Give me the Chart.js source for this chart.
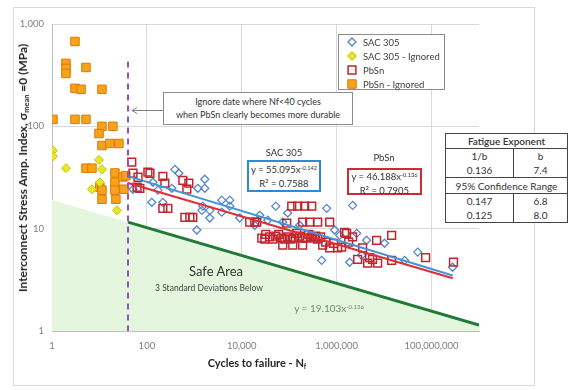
<!DOCTYPE html>
<html><head><meta charset="utf-8">
<script src="https://cdn.jsdelivr.net/npm/chart.js@4.4.0/dist/chart.umd.min.js"></script>
<style>
html,body{margin:0;padding:0;background:#fff;}
#wrap{position:relative;width:569px;height:390px;overflow:hidden;font-family:Lato,"Open Sans",sans-serif;color:#333;}
#c{position:absolute;left:0;top:0;}
.ov{position:absolute;white-space:nowrap;line-height:1;}
.ctr{transform:translate(-50%,-50%);}
sup{font-size:60%;vertical-align:0;position:relative;top:-0.55em;}
sub{font-size:62%;vertical-align:0;position:relative;top:0.3em;}
#ytitle{left:23px;top:168px;font-weight:bold;font-size:12px;color:#262626;transform:translate(-50%,-50%) rotate(-90deg);}
#xtitle{left:257px;top:362px;font-weight:bold;font-size:11px;color:#262626;}
#note{left:163px;top:92px;width:188px;height:29px;border:1px solid #8c8c8c;background:#fff;font-size:9px;color:#333;text-align:center;line-height:13px;padding-top:2px;box-sizing:content-box;}
.eqbox{position:absolute;background:#fff;font-size:9.5px;text-align:center;line-height:13px;color:#333;}
#sacbox{left:247px;top:160px;width:70px;height:27px;border:2px solid #2f8ad3;padding-top:1px;}
#pbbox{left:347px;top:168px;width:71px;height:23px;border:2px solid #cc2b31;}
#tbl{position:absolute;left:445px;top:133px;width:123px;border-collapse:collapse;border:1.5px solid #444;font-size:10px;color:#333;background:#fff;}
#tbl td{text-align:center;padding:0;height:14px;line-height:14px;}
#tbl td.l{border-right:1px solid #444;width:67px;}
#tbl tr.hd td{border-bottom:1px solid #444;font-weight:600;}
#tbl tr.hd2 td{border-top:1px solid #444;border-bottom:1px solid #444;height:15px;}
</style>
</head><body>
<div id="wrap">
<canvas id="c" width="569" height="390"></canvas>
<div class="ov" id="ytitle">Interconnect Stress Amp. Index, σ<sub>mean</sub> =0 (MPa)</div>
<div class="ov ctr" id="xtitle">Cycles to failure - N<sub>f</sub></div>
<div class="ov" id="note">Ignore date where Nf&lt;40 cycles<br>when PbSn clearly becomes more durable</div>
<div class="ov ctr" style="left:284px;top:153px;font-size:9.5px;">SAC 305</div>
<div class="eqbox" id="sacbox">y = 55.095x<sup>-0.142</sup><br>R² = 0.7588</div>
<div class="ov ctr" style="left:384px;top:158px;font-size:9.5px;">PbSn</div>
<div class="eqbox" id="pbbox">y = 46.188x<sup>-0.136</sup><br>R² = 0.7905</div>
<div class="ov ctr" style="left:216px;top:271px;font-size:13px;color:#333;">Safe Area</div>
<div class="ov ctr" style="left:209px;top:288px;font-size:8.5px;color:#444;">3 Standard Deviations Below</div>
<div class="ov ctr" style="left:329px;top:308px;font-size:10px;color:#6f8f6f;">y = 19.103x<sup>-0.136</sup></div>
<table id="tbl">
<tr class="hd"><td colspan="2">Fatigue Exponent</td></tr>
<tr><td class="l">1/b</td><td>b</td></tr>
<tr><td class="l">0.136</td><td>7.4</td></tr>
<tr class="hd2"><td colspan="2">95% Confidence Range</td></tr>
<tr><td class="l">0.147</td><td>6.8</td></tr>
<tr><td class="l">0.125</td><td>8.0</td></tr>
</table>
</div>
<script>
// ---- tick labels ----
const xTicks = [1, 100, 1e4, 1e6, 1e8];
const yTicks = [1, 10, 100, 1000];

// ---- SAC 305 ----
const sacN = [127,51,171,388,472,1660,134,336,1185,1660,217,3790,5590,5590,1510,1440,2120,2120,3790,9080,1130,52000,615000,2170000,73000,483000,4280000,10200000,2640000,1880000,51000000,27000000,277000000,3360000,23900,35300,93000,166000,908000,1160000,18800];
const sacS = [18.1,24.3,23.8,38,34.8,30.4,28.4,24.8,24.8,24.8,18.1,19.0,19.0,16.6,16.6,15.1,15.1,12.7,14.5,12.7,9.7,16.6,15.8,16.9,11.6,4.9,7.7,7.2,9.0,4.7,5.9,4.9,4.2,5.5,13.5,12.1,14.2,10.8,9.7,8.6,10.8];

// ---- SAC 305 - Ignored ----
const sacIgnN = [1.05,1.05,1.97,9.8,11.3,10.2,6.95,23.4];
const sacIgnS = [58,51,39,47,38,28.4,24.3,15.1];

// ---- PbSn ----
const pbN = [48,51,65,105,71,62,116,217,239,573,766,695,217,277,631,804,929,14700,18800,20700,113000,151000,212000,298000,192000,270000,398000,712000,38800,52000,69500,93000,124000,166000,222000,298000,398000,73000,118600,192000,507000,712000,1050000,1620000,88500,586000,865000,1470000,2170000,1790000,6950000,14400000,3520000,4950000,5700000,7300000,4500000,14400000,75000000,290000000,2770000,1270000,32000,60100,144000,258000,361000,26400,30500,45000,80400,107600,192000,344000,460000];
const pbS = [44.6,34.8,31.8,35.6,24.8,25.4,34.8,32.5,27.8,29.7,27.8,24.3,15.8,15.8,12.9,12.9,12.9,11.6,11.6,11.6,16.6,16.6,16.6,16.6,11.6,11.6,11.6,11.6,8.3,8.45,8.1,8.3,8.1,8.45,8.1,8.3,7.9,6.9,6.9,6.9,6.9,6.5,6.5,9.0,11.3,7.4,7.2,9.2,8.3,7.4,7.7,8.6,6.5,5.2,5.0,4.6,4.6,4.9,5.2,4.7,5.0,6.6,8.8,8.8,9.0,8.8,8.45,8.1,7.9,7.9,7.9,7.9,8.1,8.1,8.3];

// ---- PbSn - Ignored ----
const pbIgnN = [3.05,1.97,1.97,1.97,5.2,3.05,4.1,11.3,1.05,3.05,5.2,11.3,19.2,9.8,11.3,16.6,25.7,5.2,6.95,21.2,21.2,31.3,36.1,10.2,11.3,21.2,32.8,11.3,22.2];
const pbIgnS = [675,412,368,329,376,235,230,230,117,117,117,100,100,85,65,68,68,39,39,35,28.4,32,33,25.4,23.8,23.8,24.3,19.4,19.4];

// ---- trend / limit lines (end points) ----
const sacFitN = [40, 2.8e8];   const sacFitS = [32.6, 3.48];
const pbFitN  = [40, 2.8e8];   const pbFitS  = [27.98, 3.28];
const safeN   = [40, 1e9];     const safeS   = [11.57, 1.14];
const shadeN  = [1, 1e9];      const shadeS  = [19.1, 1.14];
const cutN    = [40, 40];      const cutS    = [430, 1];

const pts = (xs, ys) => xs.map((x, i) => ({x, y: ys[i]}));

Chart.defaults.font.family = 'Lato';

const overlay = {
  id: 'overlay',
  beforeDraw(chart) {
    const ctx = chart.ctx;
    ctx.save();
    ctx.strokeStyle = '#d9d9d9'; ctx.lineWidth = 1;
    ctx.strokeRect(13.5, 7.5, 521, 378);
    ctx.restore();
  },
  afterDraw(chart) {
    const ctx = chart.ctx;
    ctx.save();
    // arrow from note box to cutoff line
    ctx.strokeStyle = '#7f7f7f'; ctx.lineWidth = 1;
    ctx.beginPath(); ctx.moveTo(163, 110.5); ctx.lineTo(132, 110.5);
    ctx.moveTo(137, 107.5); ctx.lineTo(132, 110.5); ctx.lineTo(137, 113.5); ctx.stroke();
    // legend
    const lx = 338, ly = 34, lw = 106, lh = 55;
    ctx.fillStyle = '#fff'; ctx.fillRect(lx, ly, lw, lh);
    ctx.strokeStyle = '#8c8c8c'; ctx.strokeRect(lx + 0.5, ly + 0.5, lw, lh);
    ctx.font = '9.5px Lato'; ctx.textBaseline = 'middle';
    const ds = chart.data.datasets;
    [0, 1, 2, 3].forEach((di, i) => {
      const d = ds[di];
      const x = lx + 14, y = ly + 8 + i * 14;
      ctx.beginPath();
      if (d.pointStyle === 'rectRot') {
        const r = d.pointRadius;
        ctx.moveTo(x, y - r); ctx.lineTo(x + r, y); ctx.lineTo(x, y + r); ctx.lineTo(x - r, y); ctx.closePath();
      } else {
        const s = d.pointRadius * Math.SQRT1_2;
        ctx.rect(x - s, y - s, 2 * s, 2 * s);
      }
      ctx.fillStyle = d.backgroundColor; ctx.fill();
      ctx.strokeStyle = d.borderColor; ctx.lineWidth = d.borderWidth; ctx.stroke();
      ctx.fillStyle = '#404040';
      ctx.fillText(d.label, lx + 25, y + 0.5);
    });
    ctx.restore();
  }
};

new Chart(document.getElementById('c'), {
  type: 'scatter',
  data: {
    datasets: [
      {label: 'SAC 305', data: pts(sacN, sacS), pointStyle: 'rectRot', pointRadius: 4,
       backgroundColor: 'rgba(255,255,255,0)', borderColor: '#5585c6', borderWidth: 1.3, order: 5},
      {label: 'SAC 305 - Ignored', data: pts(sacIgnN, sacIgnS), pointStyle: 'rectRot', pointRadius: 4.5,
       backgroundColor: '#e6e62a', borderColor: '#c4c400', borderWidth: 1, order: 5},
      {label: 'PbSn', data: pts(pbN, pbS), pointStyle: 'rect', pointRadius: 5.5,
       backgroundColor: 'rgba(255,255,255,0)', borderColor: '#c0262d', borderWidth: 1.5, order: 4},
      {label: 'PbSn - Ignored', data: pts(pbIgnN, pbIgnS), pointStyle: 'rect', pointRadius: 6,
       backgroundColor: '#f6a31c', borderColor: '#e07800', borderWidth: 1, order: 6},
      {label: 'shade', type: 'line', data: pts(shadeN, shadeS), borderWidth: 0, pointRadius: 0,
       borderColor: 'rgba(0,0,0,0)', backgroundColor: '#e4f6de', fill: 'start', order: 20},
      {label: 'safe', type: 'line', data: pts(safeN, safeS), borderWidth: 3, pointRadius: 0,
       borderColor: '#1f7a35', fill: false, order: 1},
      {label: 'sacfit', type: 'line', data: pts(sacFitN, sacFitS), borderWidth: 2, pointRadius: 0,
       borderColor: '#3f95dc', fill: false, order: 1},
      {label: 'pbfit', type: 'line', data: pts(pbFitN, pbFitS), borderWidth: 2, pointRadius: 0,
       borderColor: '#df2f36', fill: false, order: 1},
      {label: 'cut', type: 'line', data: pts(cutN, cutS), borderWidth: 2, pointRadius: 0,
       borderColor: '#9150c4', borderDash: [6, 5], fill: false, order: 0}
    ]
  },
  options: {
    responsive: false, animation: false, events: [],
    devicePixelRatio: 1,
    layout: {padding: {left: 0, top: 24, right: 90, bottom: 0}},
    plugins: {legend: {display: false}, tooltip: {enabled: false}},
    scales: {
      x: {
        type: 'logarithmic', min: 1, max: 1e9,
        afterBuildTicks: s => { s.ticks = xTicks.map(v => ({value: v})); },
        afterFit: s => { s.height = 59; },
        ticks: {callback: v => Number(v).toLocaleString('en-US'), color: '#7f7f7f',
                font: {size: 9.5}, padding: 9, maxRotation: 0, autoSkip: false},
        grid: {color: '#d9d9d9', drawTicks: false},
        border: {color: '#bfbfbf'}
      },
      y: {
        type: 'logarithmic', min: 1, max: 1000,
        afterBuildTicks: s => { s.ticks = yTicks.map(v => ({value: v})); },
        afterFit: s => { s.width = 52; },
        ticks: {callback: v => Number(v).toLocaleString('en-US'), color: '#7f7f7f',
                font: {size: 9.5}, padding: 8, autoSkip: false},
        grid: {color: '#d9d9d9', drawTicks: false},
        border: {color: '#bfbfbf'}
      }
    }
  },
  plugins: [overlay]
});
</script>
</body></html>
